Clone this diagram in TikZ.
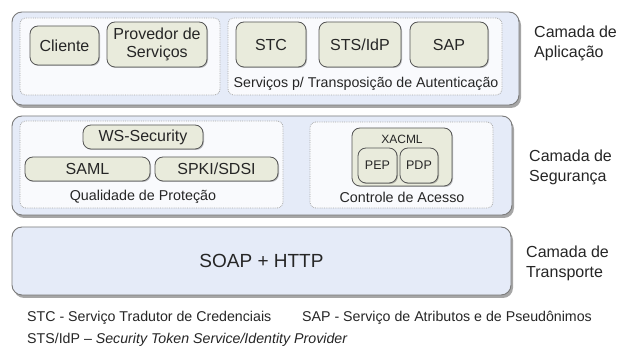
\documentclass[tikz,border=0pt]{standalone}
\usepackage{fontspec}
\setmainfont{Liberation Sans}
\usetikzlibrary{shadows}
\definecolor{layerfill}{HTML}{E5EBF8}
\definecolor{layerdraw}{HTML}{7A7A7A}
\definecolor{groupfill}{HTML}{F9FAFD}
\definecolor{groupdraw}{HTML}{A8A8A8}
\definecolor{compfill}{HTML}{E9EBDC}
\definecolor{compdraw}{HTML}{555555}
\definecolor{txt}{HTML}{262626}
\newcommand{\fs}[1]{\fontsize{#1}{\dimexpr #1pt*5/4\relax}\selectfont}
\tikzset{
  layerbox/.style={draw=layerdraw, fill=layerfill, line width=0.9pt, rounded corners=10pt, inner sep=0pt,
     drop shadow={shadow xshift=2pt, shadow yshift=-3pt, opacity=0.35, fill=black}},
  groupbox/.style={draw=groupdraw, fill=groupfill, densely dotted, line width=0.8pt, rounded corners=6pt, inner sep=0pt},
  compbox/.style={draw=compdraw, fill=compfill, line width=0.8pt, rounded corners=8pt, inner sep=0pt, align=center, text=txt,
     drop shadow={shadow xshift=1pt, shadow yshift=-1pt, opacity=0.25, fill=black}},
  lbl/.style={inner sep=0pt, text=txt},
  layerlbl/.style={inner sep=0pt, text=txt, align=left, anchor=west, font=\fontsize{16}{20}\selectfont},
}
\begin{document}
\begin{tikzpicture}[x=1pt, y=-1pt]
\useasboundingbox (0,0) rectangle (625,347);
\fill[white] (0,0) rectangle (625,347);
% Application layer
\node[layerbox, minimum width=507pt, minimum height=93pt] (app) at (265.5,58.5) {};
\node[groupbox, minimum width=200pt, minimum height=77pt] (appL) at (120,56.5) {};
\node[groupbox, minimum width=274pt, minimum height=77pt] (appR) at (365,56.5) {};
\node[compbox, minimum width=69pt, minimum height=39pt, font=\fs{16}] (cli) at (64.5,45.5) {Cliente};
\node[compbox, minimum width=100pt, minimum height=45pt, font=\fontsize{16}{18}\selectfont] (prov) at (157,44.5) {Provedor de\\Serviços};
\node[compbox, minimum width=70pt, minimum height=45pt, font=\fs{16}] (stc) at (271,44.5) {STC};
\node[compbox, minimum width=82pt, minimum height=45pt, font=\fs{16}] (sts) at (360,44.5) {STS/IdP};
\node[compbox, minimum width=78pt, minimum height=45pt, font=\fs{16}] (sap) at (449,44.5) {SAP};
\node[lbl, font=\fs{14.2}] (servlbl) at (366,84) {Serviços p/ Transposição de Autenticação};
\node[layerlbl] (applbl) at (534,43.5) {Camada de\\Aplicação};
% Security layer
\node[layerbox, minimum width=500pt, minimum height=99pt] (sec) at (262,165.5) {};
\node[groupbox, minimum width=263pt, minimum height=87pt] (secL) at (151.5,164.5) {};
\node[groupbox, minimum width=183pt, minimum height=86pt] (secR) at (401.5,165) {};
\node[compbox, minimum width=120pt, minimum height=24pt, font=\fs{16}] (wss) at (143,137) {WS-Security};
\node[compbox, minimum width=125pt, minimum height=24pt, font=\fs{16}] (saml) at (87.5,169) {SAML};
\node[compbox, minimum width=123pt, minimum height=24pt, font=\fs{16}] (spki) at (216.5,169) {SPKI/SDSI};
\node[lbl, font=\fs{14.3}] (qplbl) at (143,197) {Qualidade de Proteção};
\node[compbox, minimum width=100pt, minimum height=58pt] (xacml) at (402,157) {};
\node[lbl, font=\fs{12}] (xacmllbl) at (402,139) {XACML};
\node[compbox, minimum width=39pt, minimum height=35pt, font=\fs{12.5}] (pep) at (377.5,165.5) {PEP};
\node[compbox, minimum width=38pt, minimum height=35pt, font=\fs{12.5}] (pdp) at (419,165.5) {PDP};
\node[lbl, font=\fs{14.3}] (calbl) at (402,197) {Controle de Acesso};
\node[layerlbl] (seclbl) at (529,167) {Camada de\\Segurança};
% Transport layer
\node[layerbox, minimum width=499pt, minimum height=68pt, font=\fs{19}, text=txt] (tra) at (261.5,261) {SOAP + HTTP};
\node[layerlbl] (tralbl) at (526,263) {Camada de\\Transporte};
% Legend
\node[lbl, anchor=west, font=\fs{14.2}] (leg1) at (27,318) {STC - Serviço Tradutor de Credenciais};
\node[lbl, anchor=west, font=\fs{14.2}] (leg2) at (302,318) {SAP - Serviço de Atributos e de Pseudônimos};
\node[lbl, anchor=west, font=\fs{14.2}] (leg3) at (27,340) {STS/IdP -- \textit{Security Token Service/Identity Provider}};
\end{tikzpicture}
\end{document}
